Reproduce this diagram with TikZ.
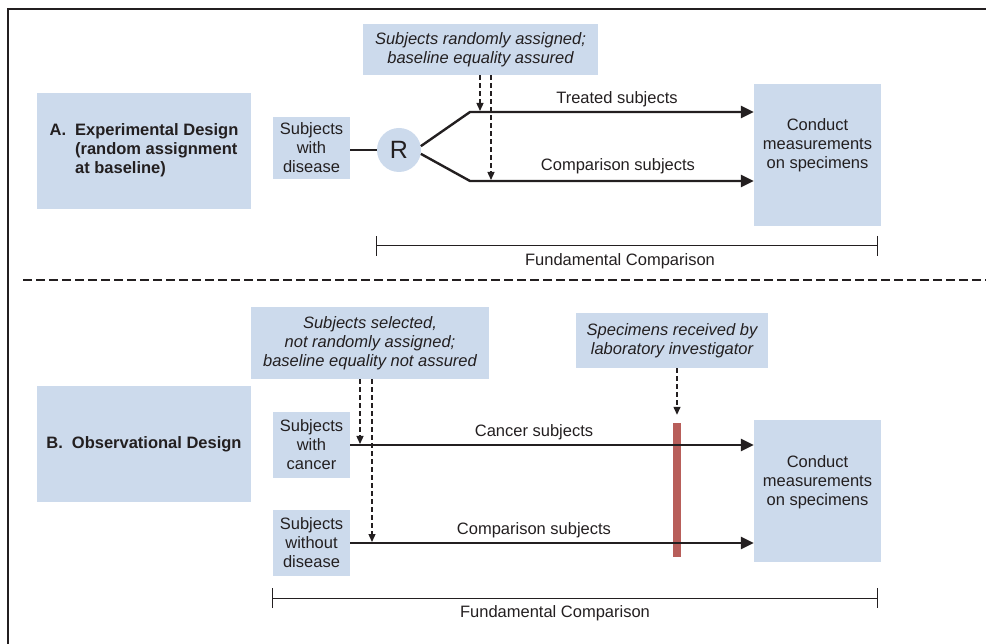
\documentclass[tikz,border=0pt]{standalone}
\usepackage{fontspec}
\setmainfont{Liberation Sans}
\usetikzlibrary{arrows.meta,calc}
\definecolor{boxblue}{HTML}{CCDAEC}
\definecolor{txt}{HTML}{231F20}
\definecolor{barred}{HTML}{B85E5A}
\newcommand\fs{\fontsize{16.5}{19}\selectfont}
\tikzset{
  bx/.style={fill=boxblue, draw=none, inner sep=0pt, text=txt, align=center, font=\fs},
  lbl/.style={text=txt, font=\fs, inner sep=0pt, align=center},
  mainarrow/.style={line width=2.4pt, draw=txt, line join=miter, -{Triangle[length=13pt,width=12pt]}},
  dasharrow/.style={line width=1.3pt, draw=txt, dash pattern=on 5pt off 3pt, -{Triangle[length=8pt,width=7pt]}, shorten >=1pt},
  bracketline/.style={line width=1pt, draw=txt, {Bar[width=20pt]}-{Bar[width=20pt]}}
}
\begin{document}
\begin{tikzpicture}[x=1pt,y=-1pt]
\useasboundingbox (0,0) rectangle (986,644);
% frame and separator
\draw[line width=1.5pt, draw=txt] (8,644) -- (8,9) -- (986,9);
\draw[line width=1.3pt, dash pattern=on 9pt off 4pt, draw=txt] (23,280) -- (986,280);

% ---------- A ----------
\node[bx, minimum width=214pt, minimum height=116pt, font=\fs\bfseries] (boxA) at (144,151)
  {\begin{tabular}{@{}l@{\hspace{9pt}}l@{}}A. & Experimental Design\\ & (random assignment\\ & at baseline)\end{tabular}};
\node[bx, minimum width=77pt, minimum height=62pt] (swd) at (311.5,148) {Subjects\\with\\disease};
\node[circle, fill=boxblue, minimum size=44pt, inner sep=0pt, text=txt, font=\fontsize{25}{25}\selectfont] (R) at (399,150) {R};
\draw[line width=2.4pt, draw=txt] (swd.east |- R.west) -- (R.west);
\node[bx, minimum width=235pt, minimum height=51pt, font=\fs\itshape] (noteA) at (480.5,49.5)
  {Subjects randomly assigned;\\baseline equality assured};
\node[bx, minimum width=127pt, minimum height=142pt] (condA) at (817.5,155) {};
\node[lbl] (condAt) at (817.5,145) {Conduct\\measurements\\on specimens};

\coordinate (ua) at (470,112);
\coordinate (la) at (470,181);
\draw[mainarrow] (R.10) -- (ua) -- (ua -| condA.west);
\draw[mainarrow] (R.-10) -- (la) -- (la -| condA.west);
\coordinate (da1) at (480,112);
\coordinate (da2) at (491,181);
\draw[dasharrow] (noteA.south -| da1) -- (da1);
\draw[dasharrow] (noteA.south -| da2) -- (da2);
\node[lbl, anchor=base] (tsl) at (617,103.5) {Treated subjects};
\node[lbl, anchor=base] (csl) at (618,171) {Comparison subjects};

\coordinate (fa1) at (376,246);
\coordinate (fa2) at (878,246);
\draw[bracketline] (fa1) -- (fa2);
\node[lbl, anchor=base] (fca) at (620,266) {Fundamental Comparison};

% ---------- B ----------
\node[bx, minimum width=238pt, minimum height=72pt, font=\fs\itshape] (noteB) at (370,343)
  {Subjects selected,\\not randomly assigned;\\baseline equality not assured};
\node[bx, minimum width=214pt, minimum height=116pt, font=\fs\bfseries] (boxB) at (144,444)
  {B.\hspace{9pt}Observational Design};
\node[bx, minimum width=77pt, minimum height=66pt] (swc) at (311.5,445) {Subjects\\with\\cancer};
\node[bx, minimum width=77pt, minimum height=66pt] (swod) at (311.5,543) {Subjects\\without\\disease};
\node[bx, minimum width=192pt, minimum height=55pt, font=\fs\itshape] (spec) at (672,340.5)
  {Specimens received by\\laboratory investigator};
\node[fill=barred, minimum width=8pt, minimum height=134pt, inner sep=0pt] (bar) at (677,490) {};
\node[bx, minimum width=127pt, minimum height=142pt] (condB) at (817.5,491) {};
\node[lbl] (condBt) at (817.5,482) {Conduct\\measurements\\on specimens};

\draw[mainarrow] (swc.east) -- (swc.east -| condB.west);
\draw[mainarrow] (swod.east) -- (swod.east -| condB.west);
\coordinate (db1) at (360,445);
\coordinate (db2) at (372,543);
\draw[dasharrow] (noteB.south -| db1) -- (db1);
\draw[dasharrow] (noteB.south -| db2) -- (db2);
\draw[dasharrow, shorten >=8pt] (spec.south -| bar.north) -- (bar.north);
\node[lbl, anchor=base] (cal) at (534,437) {Cancer subjects};
\node[lbl, anchor=base] (cbl) at (534,534) {Comparison subjects};

\coordinate (fb1) at (272,598);
\coordinate (fb2) at (878,598);
\draw[bracketline] (fb1) -- (fb2);
\node[lbl, anchor=base] (fcb) at (555,617) {Fundamental Comparison};
\end{tikzpicture}
\end{document}
